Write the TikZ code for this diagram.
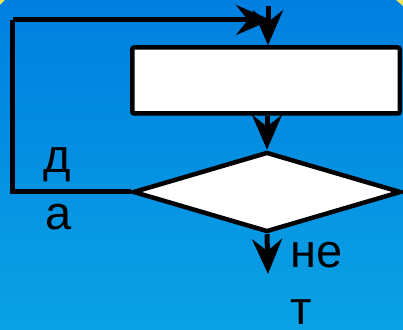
\documentclass[tikz,border=0pt]{standalone}
\usepackage{fontspec}
\setmainfont{Liberation Sans}
\usetikzlibrary{arrows.meta, positioning, shapes.geometric}
\definecolor{bgtop}{RGB}{0,127,224}
\definecolor{bgbottom}{RGB}{10,162,228}
\definecolor{framey}{RGB}{236,228,90}
\tikzset{
    procbox/.style={
        draw,
        fill=white,
        line width=4.5pt,
        rounded corners=2pt,
        inner sep=0pt,
        minimum width=267.5pt,
        minimum height=66pt
    },
    decision/.style={
        diamond,
        draw,
        fill=white,
        line width=4.5pt,
        inner sep=0pt,
        minimum width=268pt,
        minimum height=80pt
    },
    line/.style={-{Stealth[length=35pt, width=30pt, inset=12pt]}, line width=5pt},
    loopline/.style={line width=5pt},
    answer/.style={font=\fontsize{47}{47}\selectfont, inner sep=0pt, anchor=base west}
}
\begin{document}
\begin{tikzpicture}[x=1pt, y=1pt]
\useasboundingbox (0,0) rectangle (403,329);
\shade[top color=bgtop, bottom color=bgbottom] (0,0) rectangle (403,329);
\fill[framey] (0,329) -- (5,329) -- (0,324) -- cycle;
\fill[framey] (396,329) -- (403,329) -- (403,323) -- cycle;

\node[procbox] (proc) at (266,248.5) {};
\node[decision] (cond) at (267,137) {};

\coordinate (entry) at (268,323);
\coordinate (join) at (271,309);
\coordinate (loopx) at (12.5,309);
\coordinate (exit) at (268,55);

\node[answer] (yes1) at (43,156) {д};
\node[answer] (yes2) at (45,100) {а};
\node[answer] (no1) at (290,62) {не};
\node[answer] (no2) at (290,5) {т};

\draw[loopline] (cond.west) -| (loopx);
\draw[line] (loopx) -- (join);
\draw[line] (entry) -- (entry |- proc.north);
\draw[line] (proc.south -| cond.north) -- (cond.north);
\draw[line] (cond.south) -- (exit);
\end{tikzpicture}
\end{document}
